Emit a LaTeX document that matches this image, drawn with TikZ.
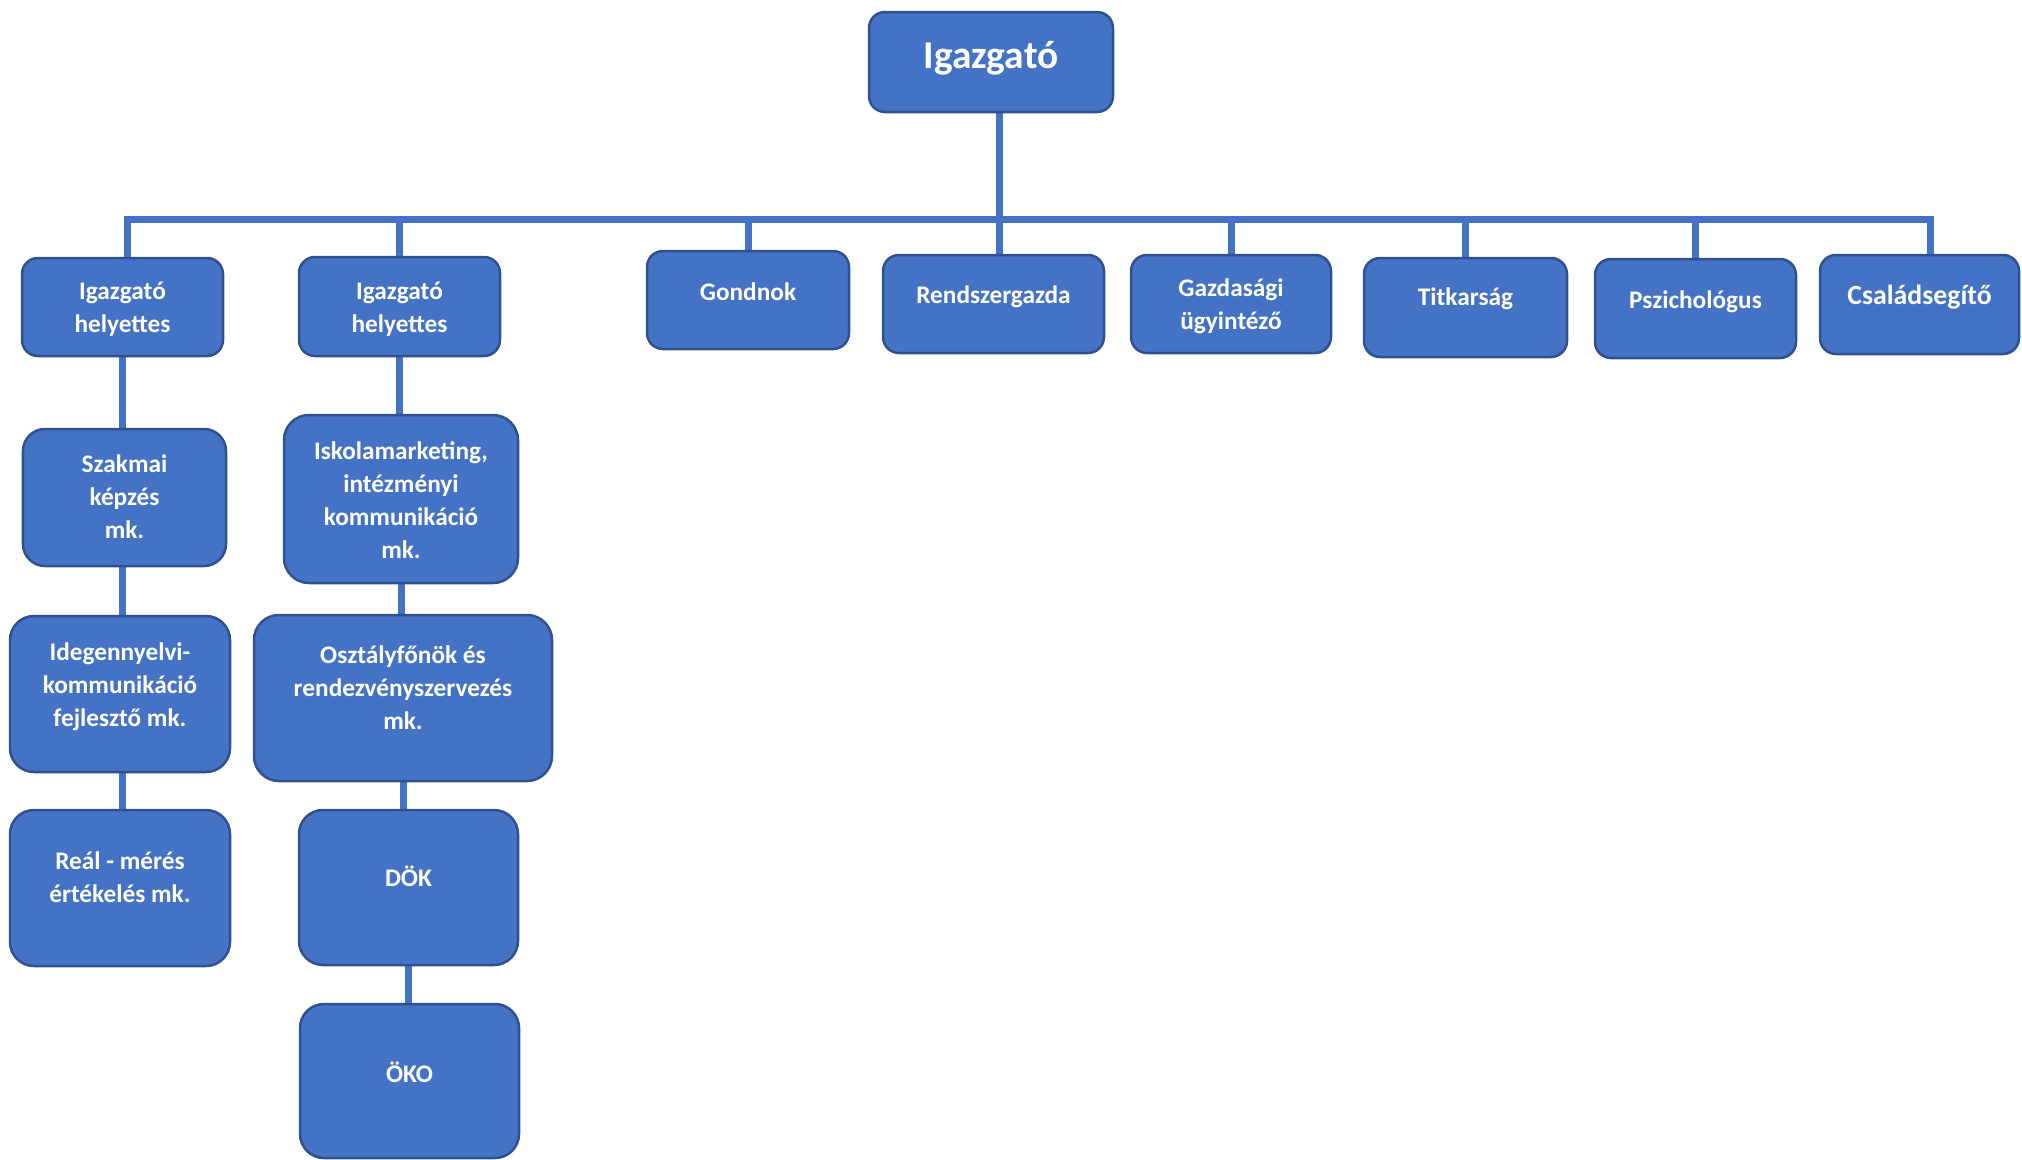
\documentclass[tikz,border=0pt]{standalone}
\usepackage{fontspec}
\setmainfont{Carlito}
\usetikzlibrary{backgrounds}
\definecolor{unitfill}{HTML}{4472C4}
\definecolor{unitline}{HTML}{2F528F}
\definecolor{linkcol}{HTML}{4472C4}
\begin{document}
\begin{tikzpicture}[x=1cm,y=-1cm,
    unit/.style={draw=unitline, fill=unitfill, line width=0.025cm, rounded corners=#1, inner sep=0pt},
    unit/.default=0.16cm,
    lbl/.style={text=white, font=\bfseries\fontsize{7.2}{9.4}\selectfont, align=center, inner sep=0pt},
    link/.style={draw=linkcol, line width=0.07cm}]
    \useasboundingbox (0,0) rectangle (20.22,11.60);
    % top
    \node[unit, minimum width=2.44cm, minimum height=1.00cm, label={[lbl, font=\bfseries\fontsize{11.2}{13}\selectfont, yshift=0.035cm]center:Igazgató}] (ig) at (9.91,0.62) {};
    % first row
    \node[unit, minimum width=2.01cm, minimum height=0.98cm, label={[lbl, yshift=-0.025cm]center:Igazgató\\helyettes}] (ih1) at (1.225,3.07) {};
    \node[unit, minimum width=2.01cm, minimum height=0.99cm, label={[lbl, yshift=-0.025cm]center:Igazgató\\helyettes}] (ih2) at (3.995,3.065) {};
    \node[unit, minimum width=2.02cm, minimum height=0.98cm, label={[lbl, yshift=0.08cm]center:Gondnok}] (gond) at (7.48,3.00) {};
    \node[unit, minimum width=2.21cm, minimum height=0.98cm, label={[lbl, yshift=0.075cm]center:Rendszergazda}] (rend) at (9.935,3.04) {};
    \node[unit, minimum width=2.00cm, minimum height=0.98cm, label={[lbl, yshift=-0.02cm]center:Gazdasági\\ügyintéző}] (gazd) at (12.31,3.04) {};
    \node[unit, minimum width=2.03cm, minimum height=0.99cm, label={[lbl, yshift=0.09cm]center:Titkarság}] (titk) at (14.655,3.075) {};
    \node[unit, minimum width=2.01cm, minimum height=0.99cm, label={[lbl, yshift=0.07cm]center:Pszichológus}] (pszi) at (16.955,3.085) {};
    \node[unit, minimum width=1.99cm, minimum height=0.99cm, label={[lbl, font=\bfseries\fontsize{7.9}{9.4}\selectfont, yshift=0.075cm]center:Családsegítő}] (csal) at (19.195,3.045) {};
    % left column
    \node[unit=0.22cm, minimum width=2.03cm, minimum height=1.37cm, label={[lbl, yshift=0.01cm]center:Szakmai\\képzés\\mk.}] (szak) at (1.245,4.975) {};
    \node[unit=0.24cm, minimum width=2.20cm, minimum height=1.56cm, label={[lbl, yshift=0.075cm]center:Idegennyelvi-\\kommunikáció\\fejlesztő mk.}] (ideg) at (1.20,6.94) {};
    \node[unit=0.24cm, minimum width=2.20cm, minimum height=1.56cm, label={[lbl, yshift=0.11cm]center:Reál - mérés\\értékelés mk.}] (real) at (1.20,8.88) {};
    % second column
    \node[unit=0.25cm, minimum width=2.34cm, minimum height=1.68cm, label={[lbl, yshift=-0.012cm]center:Iskolamarketing,\\intézményi\\kommunikáció\\mk.}] (isk) at (4.01,4.99) {};
    \node[unit=0.25cm, minimum width=2.98cm, minimum height=1.66cm, label={[lbl, yshift=0.10cm]center:Osztályfőnök és\\rendezvényszervezés\\mk.}] (oszt) at (4.03,6.98) {};
    \node[unit=0.24cm, minimum width=2.19cm, minimum height=1.55cm, label={[lbl, yshift=0.11cm]center:DÖK}] (dok) at (4.085,8.875) {};
    \node[unit=0.24cm, minimum width=2.19cm, minimum height=1.54cm, label={[lbl, yshift=0.09cm]center:ÖKO}] (oko) at (4.095,10.81) {};
    % connectors
    \coordinate (bar) at (9.99,2.19);
    \begin{scope}[on background layer]
        \draw[link] ([xshift=0.08cm]ig.south) -- ([xshift=0.08cm]ig.south |- rend.north);
        \draw[link] ([xshift=0.045cm]ih1.north) |- (bar) -| ([xshift=0.105cm]csal.north);
        \foreach \n in {ih2,gond,gazd,titk,pszi}
            \draw[link] (\n.north |- bar) -- (\n.north);
        \draw[link] (ih1.south) -- (ih1.south |- szak.north);
        \draw[link] (ih1.south |- szak.south) -- (ih1.south |- ideg.north);
        \draw[link] (ih1.south |- ideg.south) -- (ih1.south |- real.north);
        \draw[link] (ih2.south) -- (ih2.south |- isk.north);
        \draw[link] (isk.south) -- (isk.south |- oszt.north);
        \draw[link] (oszt.south) -- (oszt.south |- dok.north);
        \draw[link] (dok.south) -- (dok.south |- oko.north);
    \end{scope}
\end{tikzpicture}
\end{document}
